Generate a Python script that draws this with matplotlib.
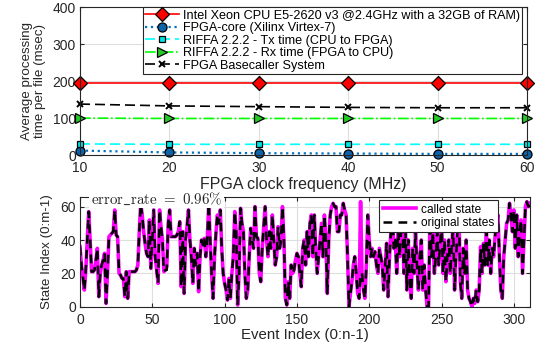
import matplotlib
matplotlib.use("Agg")
import matplotlib.pyplot as plt

plt.rcParams['font.family'] = ['Liberation Sans', 'DejaVu Sans']
plt.rcParams['mathtext.fontset'] = 'cm'

# top panel: processing time vs clock frequency
freq = [10, 20, 30, 40, 50, 60]
intel_cpu = [195, 195, 195, 195, 195, 195]
fpga_core = [12, 7, 5, 4, 3, 3]
riffa_tx = [30, 29, 29, 29, 29, 29]
riffa_rx = [100, 99, 99, 99, 99, 99]
fpga_system = [138, 133, 131, 129, 128, 128]

labels_top = ['Intel Xeon CPU E5-2620 v3 @2.4GHz with a 32GB of RAM)',
              'FPGA-core (Xilinx Virtex-7)',
              'RIFFA 2.2.2 - Tx time (CPU to FPGA)',
              'RIFFA 2.2.2 - Rx time (FPGA to CPU)',
              'FPGA Basecaller System']

# bottom panel: state sequence
original_states = [
    36, 25, 18, 10, 22, 40, 57, 40, 21, 21, 22, 28, 35, 6, 20, 25, 28, 32, 2, 20,
    42, 43, 44, 45, 58, 43, 42, 20, 19, 17, 17, 6, 21, 5, 21, 21, 21, 21, 21, 22,
    25, 45, 62, 55, 45, 38, 32, 30, 52, 23, 40, 58, 30, 22, 14, 58, 48, 40, 21, 22,
    22, 50, 58, 42, 42, 42, 42, 43, 45, 51, 12, 45, 8, 40, 48, 58, 40, 30, 14, 35,
    25, 32, 9, 30, 40, 37, 41, 30, 40, 62, 40, 20, 5, 30, 44, 55, 50, 58, 35, 20,
    14, 10, 4, 17, 5, 20, 30, 57, 45, 1, 20, 59, 50, 45, 20, 5, 10, 30, 47, 40,
    35, 60, 42, 41, 20, 15, 35, 48, 60, 40, 30, 45, 35, 55, 40, 25, 30, 48, 35, 40,
    60, 40, 5, 1, 15, 5, 25, 20, 22, 28, 32, 30, 20, 12, 35, 40, 25, 45, 30, 50,
    55, 30, 55, 35, 20, 30, 40, 50, 30, 55, 40, 8, 40, 55, 60, 62, 60, 60, 45, 45,
    55, 55, 62, 58, 55, 30, 0, 8, 15, 25, 30, 20, 8, 5, 20, 20, 10, 5, 25, 55,
    40, 30, 35, 30, 33, 25, 20, 35, 30, 25, 10, 25, 38, 6, 30, 45, 58, 35, 40, 20,
    45, 30, 45, 50, 20, 50, 10, 40, 15, 5, 35, 20, 45, 25, 10, 30, 40, 10, 25, 10,
    0, 0, 55, 30, 45, 20, 30, 45, 25, 38, 50, 20, 40, 15, 30, 40, 20, 35, 50, 10,
    30, 45, 55, 15, 5, 35, 20, 40, 10, 5, 3, 0, 5, 2, 10, 3, 10, 35, 20, 38,
    25, 45, 25, 40, 20, 35, 30, 42, 50, 55, 30, 10, 5, 30, 40, 50, 52, 62, 55, 45,
    58, 35, 55, 30, 45, 52, 20, 40, 60, 63, 60, 62]
error_idx = [194, 60, 277]
error_called = [63, 24, 36]

called_state = list(original_states)
for i, v in zip(error_idx, error_called):
    called_state[i] = v
event_idx = list(range(len(original_states)))

axis_col = '#262626'
grid_col = '#dedede'

fig = plt.figure(figsize=(5.38, 3.45), dpi=100)

ax1 = fig.add_axes([0.1487, 0.5507, 0.831, 0.428])
ax1.plot(freq, intel_cpu, '-', color='#ff0000', lw=1.2, marker='D', ms=7,
         mfc='#ff0000', mec='k', mew=0.9, label=labels_top[0], clip_on=False)
ax1.plot(freq, fpga_core, ':', color='#0072bd', lw=1.6, marker='o', ms=6.5,
         mfc='#0e62a8', mec='k', mew=0.9, label=labels_top[1], clip_on=False)
ax1.plot(freq, riffa_tx, '--', color='#00ffff', lw=1.2, dashes=(6, 3), marker='s', ms=5,
         mfc='#00e5e5', mec='k', mew=0.9, label=labels_top[2], clip_on=False)
ax1.plot(freq, riffa_rx, '-.', color='#00ff00', lw=1.2, marker='>', ms=6.5,
         mfc='#22cc22', mec='k', mew=0.9, label=labels_top[3], clip_on=False)
ax1.plot(freq, fpga_system, '--', color='k', lw=1.2, dashes=(6, 3), marker='x', ms=4.5,
         mew=1.4, label=labels_top[4], clip_on=False)
ax1.set_xlim(10, 60)
ax1.set_ylim(0, 400)
ax1.set_xticks(freq)
ax1.set_yticks([0, 100, 200, 300, 400])
ax1.set_xlabel('FPGA clock frequency (MHz)', fontsize=11.5, color=axis_col, labelpad=1)
ax1.set_ylabel('Average processing\ntime per file (msec)', fontsize=9.6,
               color=axis_col, linespacing=1.05, labelpad=5)
leg1 = ax1.legend(loc='upper right', bbox_to_anchor=(0.989, 1.0), fontsize=9.1,
                  frameon=True, fancybox=False, edgecolor='#262626', framealpha=1,
                  borderaxespad=0, handlelength=2.7, labelspacing=0.04,
                  borderpad=0.2, handletextpad=0.25)
leg1.get_frame().set_linewidth(0.8)

ax2 = fig.add_axes([0.1487, 0.111, 0.836, 0.319])
ax2.plot(event_idx, called_state, '-', color='#ff00ff', lw=2.6, label='called state')
ax2.plot(event_idx, original_states, '--', color='k', lw=1.8, dashes=(3.5, 2.5),
         label='original states')
ax2.set_xlim(0, 311)
ax2.set_ylim(0, 66)
ax2.set_xticks([0, 50, 100, 150, 200, 250, 300])
ax2.set_yticks([0, 20, 40, 60])
ax2.set_xlabel('Event Index (0:n-1)', fontsize=10.8, color=axis_col, labelpad=0.5)
ax2.set_ylabel('State Index (0:m-1)', fontsize=9.6, color=axis_col, labelpad=5)
leg2 = ax2.legend(loc='upper right', bbox_to_anchor=(0.929, 0.97), fontsize=8.6,
                  frameon=True, fancybox=False, edgecolor='#262626', framealpha=1,
                  borderaxespad=0, handlelength=2.8, labelspacing=0.1,
                  borderpad=0.3, handletextpad=0.4)
leg2.get_frame().set_linewidth(0.8)
ax2.text(0.024, 0.98, r'$\mathrm{error\_rate}\ =\ 0.96\%$', transform=ax2.transAxes,
         fontsize=10.8, ha='left', va='center', color='#262626',
         bbox=dict(facecolor='white', edgecolor='none', pad=1.0), zorder=10)

for ax in (ax1, ax2):
    ax.grid(True, color=grid_col, lw=0.8)
    ax.set_axisbelow(True)
    ax.tick_params(direction='in', top=True, right=True, labelsize=10,
                   colors=axis_col, length=3)
    ax.tick_params(axis='x', pad=4.5)
    ax.tick_params(axis='y', pad=3)
    for s in ax.spines.values():
        s.set_color(axis_col)
        s.set_linewidth(0.8)

fig.savefig('out.png', dpi=100)
